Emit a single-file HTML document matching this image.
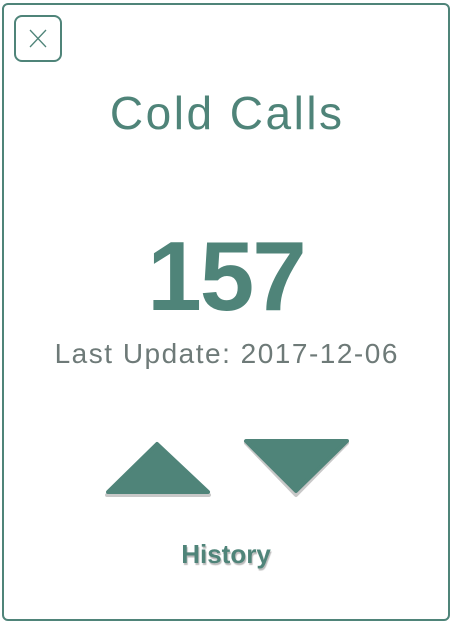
<!DOCTYPE html>
<html><head><meta charset="utf-8"><style>
body{margin:0;width:452px;height:624px;background:#fff;font-family:"Liberation Sans",sans-serif;position:relative;overflow:hidden}
.card{position:absolute;left:2px;top:3px;width:444px;height:614px;border:2px solid #4f8479;border-radius:6px}
.close{position:absolute;left:14px;top:15px;width:44px;height:43px;border:2px solid #4f8479;border-radius:8px}
.t{position:absolute;left:0;width:452px;text-align:center;color:#4f8479}
</style></head><body>
<div class="card"></div>
<div class="close">
<svg width="44" height="43"><path d="M14 13 L30 30 M30 13 L14 30" stroke="#4f8479" stroke-width="1.3"/></svg></div>
<div class="t" style="top:86px;font-size:46px;letter-spacing:2.5px;text-indent:2.5px">Cold Calls</div>
<div class="t" style="top:220px;font-size:98px;font-weight:bold;letter-spacing:-2px">157</div>
<div class="t" style="top:338px;font-size:28px;color:#6e7a78;letter-spacing:1.5px;text-indent:1.5px">Last Update: 2017-12-06</div>
<svg style="position:absolute;left:0;top:0" width="452" height="624">
<g>
<path d="M157 446 L209 495 L107 495 Z" fill="#c8c8c8" stroke="#c8c8c8" stroke-width="4" stroke-linejoin="round"/>
<path d="M157 444 L208 492 L108 492 Z" fill="#4f8479" stroke="#4f8479" stroke-width="4" stroke-linejoin="round"/></g>
<g>
<path d="M246 443 L347 443 L296 495 Z" fill="#c8c8c8" stroke="#c8c8c8" stroke-width="4" stroke-linejoin="round"/>
<path d="M246 441 L347 441 L296 491 Z" fill="#4f8479" stroke="#4f8479" stroke-width="4" stroke-linejoin="round"/></g>
</svg>
<div class="t" style="top:539px;font-size:26px;font-weight:bold;text-shadow:1px 2px 1px #bbb">History</div>
</body></html>
